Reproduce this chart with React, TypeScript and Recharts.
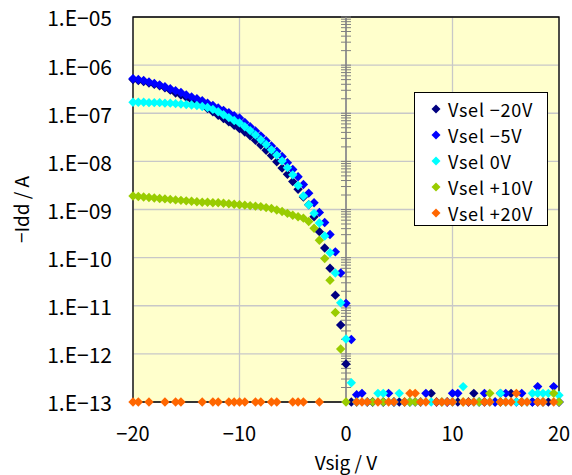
import React from "react";
import {
  ScatterChart,
  Scatter,
  XAxis,
  YAxis,
  CartesianGrid,
  ReferenceLine,
  ReferenceArea,
  Legend,
} from "recharts";

const FONT = '"Noto Sans CJK JP", "Noto Sans", sans-serif';
const _ = null;

// Vsig sweep (V)
const VSIG = [
  -20, -19.5, -19, -18.5, -18, -17.5, -17, -16.5, -16, -15.5, -15, -14.5, -14, -13.5, -13,
  -12.5, -12, -11.5, -11, -10.5, -10, -9.5, -9, -8.5, -8, -7.5, -7, -6.5, -6,
  -5.5, -5, -4.5, -4, -3.5, -3, -2.5, -2, -1.5, -1, -0.5, 0,
  0.5, 1, 1.5, 2, 2.5, 3, 3.5, 4, 4.5, 5,
  5.5, 6, 6.5, 7, 7.5, 8, 8.5, 9, 9.5, 10,
  10.5, 11, 11.5, 12, 12.5, 13, 13.5, 14, 14.5, 15,
  15.5, 16, 16.5, 17, 17.5, 18, 18.5, 19, 19.5, 20,
];

// -Idd as log10(A), one entry per VSIG point (null = not plotted)
const VSEL_M20 = [
  -6.3, -6.32, -6.34, -6.37, -6.4, -6.43, -6.47, -6.52, -6.58, -6.62, -6.67, -6.72, -6.78, -6.84, -6.9,
  -6.97, -7.04, -7.11, -7.18, -7.25, -7.32, -7.39, -7.47, -7.56, -7.66, -7.77, -7.88, -8.01, -8.14,
  -8.27, -8.42, -8.58, -8.74, -8.9, -9.15, -9.46, -9.8, -10.22, -10.78, -11.4, -12.21,
  -13, -13, _, -13, -13, _, -13, _, -13, -13,
  _, -13, _, -13, _, -12.82, -13, _, -13, _,
  -13, _, -13, -12.82, _, -13, _, -13, -13, _,
  -12.82, _, -13, _, -13, -13, _, -13, _, -13,
];

const VSEL_M5 = [
  -6.28, -6.3, -6.32, -6.35, -6.38, -6.41, -6.45, -6.49, -6.53, -6.57, -6.62, -6.66, -6.7, -6.74, -6.79,
  -6.84, -6.89, -6.94, -6.99, -7.05, -7.1, -7.19, -7.28, -7.37, -7.47, -7.57, -7.68, -7.79, -7.9,
  -8.03, -8.17, -8.32, -8.48, -8.66, -8.86, -9.06, -9.27, -9.52, -9.88, -10.32, -10.95,
  -11.7, -12.85, -12.82, -13, -13, _, -13, -12.82, -13, _,
  -13, _, -13, -13, -12.82, _, -13, _, -13, -12.82,
  -12.82, _, -13, _, -13, -12.82, _, -13, -12.82, -12.82,
  _, -13, -12.82, _, -13, -12.68, -13, _, -12.68, -13,
];

const VSEL_0 = [
  -6.77, -6.77, -6.77, -6.78, -6.78, -6.78, -6.79, -6.79, -6.8, -6.81, -6.82, -6.83, -6.84, -6.86, -6.88,
  -6.92, -6.97, -7.03, -7.09, -7.15, -7.2, -7.28, -7.36, -7.45, -7.55, -7.65, -7.76, -7.87, -7.99,
  -8.13, -8.28, -8.5, -8.72, -8.9, -9.08, -9.28, -9.55, -9.9, -10.32, -10.94, -11.69,
  -12.6, -13, _, -13, _, -12.82, -12.82, _, -13, -12.82,
  _, -13, _, -13, _, -13, _, -13, _, -13,
  _, -12.68, _, -13, -13, _, -13, _, -12.82, -13,
  _, -13, _, -13, -12.82, -12.82, -12.82, -12.82, _, -12.86,
];

const VSEL_P10 = [
  -8.72, -8.73, -8.74, -8.75, -8.76, -8.77, -8.78, -8.79, -8.8, -8.81, -8.82, -8.83, -8.84, -8.85, -8.85,
  -8.86, -8.86, -8.87, -8.88, -8.89, -8.9, -8.91, -8.92, -8.93, -8.94, -8.96, -8.98, -9.01, -9.04,
  -9.08, -9.12, -9.15, -9.18, -9.25, -9.39, -9.64, -10.02, -10.47, -11.14, -11.9, -13,
  _, _, _, _, -13, _, -13, _, _, _,
  -13, -13, -13, _, _, _, _, -13, _, _,
  _, -13, _, _, -13, _, -12.82, _, -13, _,
  _, _, -13, _, _, _, -13, _, -12.82, -13,
];

const VSEL_P20 = [
  -13, -13, _, -13, _, _, -13, _, -13, -13, _, _, _, -13, _,
  -13, -13, _, -13, -13, -13, -13, _, -13, -13, _, -13, -13, _,
  _, -13, -13, -13, _, _, -13, _, _, _, _, _,
  _, -13, -13, -13, _, -13, _, -13, -13, _,
  -13, -12.82, -12.82, -13, -13, _, -13, -13, -13, -13,
  _, -13, -13, -13, _, -13, -13, _, -13, -13,
  -13, -12.82, -13, -13, _, -13, -13, _, -13, _,
];

const X_TICKS = [-20, -10, 0, 10, 20];
const Y_TICKS = [1e-13, 1e-12, 1e-11, 1e-10, 1e-9, 1e-8, 1e-7, 1e-6, 1e-5];
const MINOR_STEPS = [1, 2, 3, 4, 5, 6, 7, 8, 9];

const SERIES = [
  { name: "Vsel −20V", color: "#000080", logs: VSEL_M20 },
  { name: "Vsel −5V", color: "#0000FF", logs: VSEL_M5 },
  { name: "Vsel 0V", color: "#00FFFF", logs: VSEL_0 },
  { name: "Vsel +10V", color: "#99CC00", logs: VSEL_P10 },
  { name: "Vsel +20V", color: "#FF6600", logs: VSEL_P20 },
];

const toPoints = (logs: (number | null)[]) =>
  VSIG.map((x, i) => ({ x, l: logs[i] }))
    .filter((p) => p.l !== null)
    .map((p) => ({ x: p.x, y: Math.pow(10, p.l as number) }));

// log minor ticks drawn on the x=0 axis
const minorTicks: { x: number; y: number }[] = [];
for (let e = -13; e < -5; e++) {
  MINOR_STEPS.forEach((k) => minorTicks.push({ x: 0, y: k * Math.pow(10, e) }));
}
minorTicks.push({ x: 0, y: 1e-5 });

const fmtY = (v: number) => {
  const e = Math.round(-Math.log10(v));
  return "1.E−" + String(e).padStart(2, "0");
};
const fmtX = (v: number) => String(v).replace("-", "−");

const Diamond = (props: any) => {
  const { cx, cy, fill } = props;
  const r = 4.7;
  if (cx == null || cy == null) return null;
  return (
    <polygon
      points={`${cx},${cy - r} ${cx + r},${cy} ${cx},${cy + r} ${cx - r},${cy}`}
      fill={fill}
    />
  );
};

const MinorTick = (props: any) => {
  const { cx, cy } = props;
  if (cx == null || cy == null) return null;
  return <line x1={cx - 5} x2={cx + 5} y1={cy} y2={cy} stroke="#808080" strokeWidth={1} />;
};

const renderLegend = () => (
  <div
    style={{
      width: 134,
      height: 134,
      boxSizing: "border-box",
      border: "1px solid #000",
      background: "#fff",
      fontFamily: FONT,
      fontSize: 18,
      letterSpacing: 0.8,
      paddingTop: 3,
    }}
  >
    {SERIES.map((s) => (
      <div key={s.name} style={{ display: "flex", alignItems: "center", height: 26 }}>
        <svg width={33} height={26}>
          <polygon points="21,8.5 25.5,13 21,17.5 16.5,13" fill={s.color} />
        </svg>
        <span style={{ color: "#000", whiteSpace: "nowrap" }}>{s.name}</span>
      </div>
    ))}
  </div>
);

export default function App() {
  return (
    <div style={{ position: "absolute", left: 0, top: 0, background: "#fff" }}>
      <ScatterChart width={572} height={475} margin={{ top: 17, right: 13, bottom: 0, left: 0 }}>
        <CartesianGrid fill="#FFFFCC" stroke="#C8C8C8" strokeWidth={1.3} />
        <XAxis
          type="number"
          dataKey="x"
          domain={[-20, 20]}
          ticks={X_TICKS}
          height={73}
          tickSize={0}
          tickMargin={25}
          axisLine={false}
          tickFormatter={fmtX}
          tick={{ fontSize: 20, fill: "#000", fontFamily: FONT }}
          label={{
            value: "Vsig / V",
            position: "insideBottom",
            offset: 5,
            style: { fontSize: 19, fill: "#000", fontFamily: FONT },
          }}
        />
        <YAxis
          type="number"
          dataKey="y"
          scale="log"
          domain={[1e-13, 1e-5]}
          ticks={Y_TICKS}
          width={133}
          tickSize={0}
          tickMargin={21}
          axisLine={false}
          tickFormatter={fmtY}
          tick={{ fontSize: 21, fill: "#000", fontFamily: FONT, dy: 2 }}
          label={{
            value: "−Idd / A",
            angle: -90,
            position: "insideLeft",
            offset: 22,
            style: { fontSize: 19, fill: "#000", fontFamily: FONT, textAnchor: "middle" },
          }}
        />
        <ReferenceLine x={0} stroke="#808080" strokeWidth={1.5} />
        <Scatter
          data={minorTicks}
          shape={<MinorTick />}
          legendType="none"
          isAnimationActive={false}
        />
        {SERIES.map((s) => (
          <Scatter
            key={s.name}
            name={s.name}
            data={toPoints(s.logs)}
            fill={s.color}
            shape={<Diamond />}
            isAnimationActive={false}
          />
        ))}
        <ReferenceArea
          x1={-20}
          x2={20}
          y1={1e-13}
          y2={1e-5}
          fill="none"
          fillOpacity={0}
          stroke="#000"
          strokeWidth={1.3}
        />
        <Legend
          layout="vertical"
          align="center"
          verticalAlign="middle"
          content={renderLegend}
          wrapperStyle={{ left: 414, top: 92, width: 134, height: 134 }}
        />
      </ScatterChart>
    </div>
  );
}
